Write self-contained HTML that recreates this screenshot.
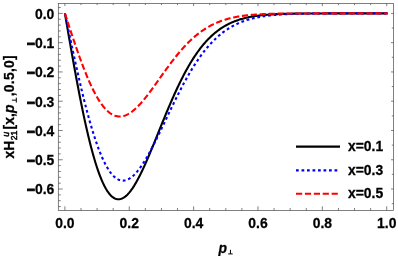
<!DOCTYPE html>
<html><head><meta charset="utf-8">
<style>
html,body{margin:0;padding:0;background:#fff;}
svg{display:block;will-change:transform;}
text{font-family:"Liberation Sans",sans-serif;font-weight:bold;font-size:13.5px;fill:#000;stroke:#000;stroke-width:0.25px;}
</style></head><body>
<svg width="398" height="256" viewBox="0 0 398 256">
<rect width="398" height="256" fill="#fff"/>
<g fill="none" stroke-linejoin="round">
<path d="M64.90,13.40 L65.70,18.07 L66.51,22.74 L67.31,27.41 L68.12,32.06 L68.92,36.70 L69.73,41.32 L70.53,45.91 L71.34,50.49 L72.14,55.03 L72.95,59.55 L73.75,64.03 L74.55,68.47 L75.36,72.87 L76.16,77.23 L76.97,81.55 L77.77,85.81 L78.58,90.03 L79.38,94.19 L80.19,98.29 L80.99,102.34 L81.79,106.32 L82.60,110.24 L83.40,114.10 L84.21,117.88 L85.01,121.60 L85.82,125.25 L86.62,128.82 L87.43,132.31 L88.23,135.73 L89.04,139.06 L89.84,142.32 L90.64,145.49 L91.45,148.58 L92.25,151.58 L93.06,154.50 L93.86,157.33 L94.67,160.07 L95.47,162.72 L96.28,165.28 L97.08,167.75 L97.88,170.13 L98.69,172.41 L99.49,174.60 L100.30,176.70 L101.10,178.70 L101.91,180.61 L102.71,182.42 L103.52,184.14 L104.32,185.77 L105.12,187.30 L105.93,188.74 L106.73,190.08 L107.54,191.33 L108.34,192.48 L109.15,193.54 L109.95,194.51 L110.76,195.39 L111.56,196.17 L112.37,196.87 L113.17,197.48 L113.97,198.00 L114.78,198.43 L115.58,198.77 L116.39,199.03 L117.19,199.20 L118.00,199.29 L118.80,199.30 L119.61,199.23 L120.41,199.07 L121.22,198.84 L122.02,198.54 L122.82,198.16 L123.63,197.70 L124.43,197.17 L125.24,196.58 L126.04,195.91 L126.85,195.17 L127.65,194.38 L128.46,193.51 L129.26,192.59 L130.06,191.60 L130.87,190.56 L131.67,189.45 L132.48,188.30 L133.28,187.09 L134.09,185.83 L134.89,184.52 L135.70,183.16 L136.50,181.75 L137.31,180.30 L138.11,178.81 L138.91,177.28 L139.72,175.71 L140.52,174.10 L141.33,172.46 L142.13,170.78 L142.94,169.08 L143.74,167.34 L144.55,165.57 L145.35,163.78 L146.15,161.97 L146.96,160.13 L147.76,158.27 L148.57,156.39 L149.37,154.50 L150.18,152.58 L150.98,150.66 L151.79,148.72 L152.59,146.76 L153.40,144.80 L154.20,142.83 L155.00,140.86 L155.81,138.87 L156.61,136.89 L157.42,134.90 L158.22,132.91 L159.03,130.92 L159.83,128.93 L160.64,126.94 L161.44,124.95 L162.24,122.97 L163.05,121.00 L163.85,119.03 L164.66,117.08 L165.46,115.13 L166.27,113.19 L167.07,111.26 L167.88,109.34 L168.68,107.44 L169.49,105.54 L170.29,103.67 L171.09,101.81 L171.90,99.96 L172.70,98.13 L173.51,96.32 L174.31,94.53 L175.12,92.75 L175.92,90.99 L176.73,89.26 L177.53,87.54 L178.33,85.84 L179.14,84.17 L179.94,82.51 L180.75,80.88 L181.55,79.27 L182.36,77.68 L183.16,76.12 L183.97,74.58 L184.77,73.06 L185.58,71.56 L186.38,70.09 L187.18,68.64 L187.99,67.21 L188.79,65.81 L189.60,64.44 L190.40,63.08 L191.21,61.76 L192.01,60.45 L192.82,59.17 L193.62,57.92 L194.42,56.68 L195.23,55.48 L196.03,54.29 L196.84,53.13 L197.64,52.00 L198.45,50.88 L199.25,49.79 L200.06,48.73 L200.86,47.68 L201.67,46.66 L202.47,45.67 L203.27,44.69 L204.08,43.74 L204.88,42.81 L205.69,41.90 L206.49,41.02 L207.30,40.15 L208.10,39.31 L208.91,38.48 L209.71,37.68 L210.51,36.90 L211.32,36.14 L212.12,35.39 L212.93,34.67 L213.73,33.97 L214.54,33.28 L215.34,32.61 L216.15,31.96 L216.95,31.33 L217.75,30.72 L218.56,30.12 L219.36,29.54 L220.17,28.98 L220.97,28.44 L221.78,27.90 L222.58,27.39 L223.39,26.89 L224.19,26.40 L225.00,25.93 L225.80,25.48 L226.60,25.04 L227.41,24.61 L228.21,24.19 L229.02,23.79 L229.82,23.40 L230.63,23.03 L231.43,22.66 L232.24,22.31 L233.04,21.97 L233.85,21.64 L234.65,21.32 L235.45,21.01 L236.26,20.71 L237.06,20.42 L237.87,20.15 L238.67,19.88 L239.48,19.62 L240.28,19.37 L241.09,19.13 L241.89,18.90 L242.69,18.67 L243.50,18.45 L244.30,18.25 L245.11,18.05 L245.91,17.85 L246.72,17.67 L247.52,17.49 L248.33,17.31 L249.13,17.15 L249.94,16.99 L250.74,16.83 L251.54,16.69 L252.35,16.54 L253.15,16.41 L253.96,16.28 L254.76,16.15 L255.57,16.03 L256.37,15.91 L257.18,15.80 L257.98,15.69 L258.78,15.59 L259.59,15.49 L260.39,15.40 L261.20,15.30 L262.00,15.22 L262.81,15.13 L263.61,15.05 L264.42,14.98 L265.22,14.90 L266.02,14.83 L266.83,14.77 L267.63,14.70 L268.44,14.64 L269.24,14.58 L270.05,14.52 L270.85,14.47 L271.66,14.42 L272.46,14.37 L273.27,14.32 L274.07,14.28 L274.87,14.23 L275.68,14.19 L276.48,14.15 L277.29,14.12 L278.09,14.08 L278.90,14.05 L279.70,14.01 L280.51,13.98 L281.31,13.95 L282.12,13.93 L282.92,13.90 L283.72,13.87 L284.53,13.85 L285.33,13.83 L286.14,13.80 L286.94,13.78 L287.75,13.76 L288.55,13.74 L289.36,13.73 L290.16,13.71 L290.96,13.69 L291.77,13.68 L292.57,13.66 L293.38,13.65 L294.18,13.64 L294.99,13.62 L295.79,13.61 L296.60,13.60 L297.40,13.59 L298.21,13.58 L299.01,13.57 L299.81,13.56 L300.62,13.55 L301.42,13.54 L302.23,13.53 L303.03,13.53 L303.84,13.52 L304.64,13.51 L305.45,13.51 L306.25,13.50 L307.05,13.49 L307.86,13.49 L308.66,13.48 L309.47,13.48 L310.27,13.47 L311.08,13.47 L311.88,13.47 L312.69,13.46 L313.49,13.46 L314.30,13.46 L315.10,13.45 L315.90,13.45 L316.71,13.45 L317.51,13.44 L318.32,13.44 L319.12,13.44 L319.93,13.44 L320.73,13.43 L321.54,13.43 L322.34,13.43 L323.14,13.43 L323.95,13.43 L324.75,13.42 L325.56,13.42 L326.36,13.42 L327.17,13.42 L327.97,13.42 L328.78,13.42 L329.58,13.42 L330.38,13.42 L331.19,13.41 L331.99,13.41 L332.80,13.41 L333.60,13.41 L334.41,13.41 L335.21,13.41 L336.02,13.41 L336.82,13.41 L337.63,13.41 L338.43,13.41 L339.23,13.41 L340.04,13.41 L340.84,13.41 L341.65,13.41 L342.45,13.41 L343.26,13.41 L344.06,13.41 L344.87,13.40 L345.67,13.40 L346.48,13.40 L347.28,13.40 L348.08,13.40 L348.89,13.40 L349.69,13.40 L350.50,13.40 L351.30,13.40 L352.11,13.40 L352.91,13.40 L353.72,13.40 L354.52,13.40 L355.32,13.40 L356.13,13.40 L356.93,13.40 L357.74,13.40 L358.54,13.40 L359.35,13.40 L360.15,13.40 L360.96,13.40 L361.76,13.40 L362.57,13.40 L363.37,13.40 L364.17,13.40 L364.98,13.40 L365.78,13.40 L366.59,13.40 L367.39,13.40 L368.20,13.40 L369.00,13.40 L369.81,13.40 L370.61,13.40 L371.41,13.40 L372.22,13.40 L373.02,13.40 L373.83,13.40 L374.63,13.40 L375.44,13.40 L376.24,13.40 L377.05,13.40 L377.85,13.40 L378.65,13.40 L379.46,13.40 L380.26,13.40 L381.07,13.40 L381.87,13.40 L382.68,13.40 L383.48,13.40 L384.29,13.40 L385.09,13.40 L385.90,13.40 L386.70,13.40 L387.70,13.40" stroke="#000" stroke-width="2.1"/>
<path d="M64.90,13.40 L65.70,17.23 L66.51,21.07 L67.31,24.90 L68.12,28.72 L68.92,32.53 L69.73,36.33 L70.53,40.12 L71.34,43.89 L72.14,47.64 L72.95,51.37 L73.75,55.08 L74.55,58.77 L75.36,62.43 L76.16,66.06 L76.97,69.66 L77.77,73.23 L78.58,76.76 L79.38,80.26 L80.19,83.72 L80.99,87.14 L81.79,90.51 L82.60,93.85 L83.40,97.14 L84.21,100.38 L85.01,103.57 L85.82,106.71 L86.62,109.80 L87.43,112.83 L88.23,115.82 L89.04,118.74 L89.84,121.61 L90.64,124.42 L91.45,127.16 L92.25,129.85 L93.06,132.47 L93.86,135.04 L94.67,137.53 L95.47,139.96 L96.28,142.33 L97.08,144.62 L97.88,146.85 L98.69,149.01 L99.49,151.10 L100.30,153.13 L101.10,155.08 L101.91,156.96 L102.71,158.76 L103.52,160.50 L104.32,162.16 L105.12,163.75 L105.93,165.27 L106.73,166.72 L107.54,168.09 L108.34,169.39 L109.15,170.62 L109.95,171.77 L110.76,172.85 L111.56,173.86 L112.37,174.80 L113.17,175.66 L113.97,176.46 L114.78,177.18 L115.58,177.83 L116.39,178.41 L117.19,178.92 L118.00,179.36 L118.80,179.74 L119.61,180.04 L120.41,180.28 L121.22,180.45 L122.02,180.56 L122.82,180.60 L123.63,180.58 L124.43,180.49 L125.24,180.34 L126.04,180.14 L126.85,179.87 L127.65,179.54 L128.46,179.16 L129.26,178.71 L130.06,178.21 L130.87,177.66 L131.67,177.06 L132.48,176.40 L133.28,175.69 L134.09,174.93 L134.89,174.12 L135.70,173.27 L136.50,172.37 L137.31,171.42 L138.11,170.43 L138.91,169.40 L139.72,168.33 L140.52,167.22 L141.33,166.07 L142.13,164.88 L142.94,163.66 L143.74,162.41 L144.55,161.12 L145.35,159.80 L146.15,158.45 L146.96,157.07 L147.76,155.67 L148.57,154.23 L149.37,152.78 L150.18,151.30 L150.98,149.80 L151.79,148.27 L152.59,146.73 L153.40,145.17 L154.20,143.59 L155.00,142.00 L155.81,140.39 L156.61,138.77 L157.42,137.14 L158.22,135.49 L159.03,133.84 L159.83,132.18 L160.64,130.51 L161.44,128.83 L162.24,127.15 L163.05,125.47 L163.85,123.78 L164.66,122.09 L165.46,120.39 L166.27,118.70 L167.07,117.01 L167.88,115.32 L168.68,113.63 L169.49,111.95 L170.29,110.27 L171.09,108.60 L171.90,106.93 L172.70,105.27 L173.51,103.61 L174.31,101.97 L175.12,100.33 L175.92,98.71 L176.73,97.09 L177.53,95.48 L178.33,93.89 L179.14,92.31 L179.94,90.74 L180.75,89.19 L181.55,87.64 L182.36,86.12 L183.16,84.60 L183.97,83.11 L184.77,81.62 L185.58,80.16 L186.38,78.71 L187.18,77.28 L187.99,75.86 L188.79,74.46 L189.60,73.08 L190.40,71.72 L191.21,70.37 L192.01,69.05 L192.82,67.74 L193.62,66.45 L194.42,65.18 L195.23,63.93 L196.03,62.70 L196.84,61.48 L197.64,60.29 L198.45,59.12 L199.25,57.96 L200.06,56.83 L200.86,55.71 L201.67,54.62 L202.47,53.54 L203.27,52.48 L204.08,51.44 L204.88,50.43 L205.69,49.43 L206.49,48.45 L207.30,47.49 L208.10,46.54 L208.91,45.62 L209.71,44.72 L210.51,43.83 L211.32,42.97 L212.12,42.12 L212.93,41.29 L213.73,40.48 L214.54,39.68 L215.34,38.91 L216.15,38.15 L216.95,37.41 L217.75,36.69 L218.56,35.98 L219.36,35.29 L220.17,34.62 L220.97,33.96 L221.78,33.32 L222.58,32.69 L223.39,32.08 L224.19,31.49 L225.00,30.91 L225.80,30.35 L226.60,29.80 L227.41,29.26 L228.21,28.74 L229.02,28.24 L229.82,27.74 L230.63,27.26 L231.43,26.80 L232.24,26.34 L233.04,25.90 L233.85,25.48 L234.65,25.06 L235.45,24.66 L236.26,24.26 L237.06,23.88 L237.87,23.51 L238.67,23.15 L239.48,22.81 L240.28,22.47 L241.09,22.14 L241.89,21.83 L242.69,21.52 L243.50,21.22 L244.30,20.93 L245.11,20.65 L245.91,20.38 L246.72,20.12 L247.52,19.87 L248.33,19.63 L249.13,19.39 L249.94,19.16 L250.74,18.94 L251.54,18.72 L252.35,18.52 L253.15,18.32 L253.96,18.13 L254.76,17.94 L255.57,17.76 L256.37,17.59 L257.18,17.42 L257.98,17.26 L258.78,17.10 L259.59,16.95 L260.39,16.81 L261.20,16.67 L262.00,16.53 L262.81,16.40 L263.61,16.28 L264.42,16.16 L265.22,16.04 L266.02,15.93 L266.83,15.82 L267.63,15.72 L268.44,15.62 L269.24,15.53 L270.05,15.43 L270.85,15.35 L271.66,15.26 L272.46,15.18 L273.27,15.10 L274.07,15.03 L274.87,14.96 L275.68,14.89 L276.48,14.82 L277.29,14.76 L278.09,14.70 L278.90,14.64 L279.70,14.58 L280.51,14.53 L281.31,14.48 L282.12,14.43 L282.92,14.38 L283.72,14.33 L284.53,14.29 L285.33,14.25 L286.14,14.21 L286.94,14.17 L287.75,14.13 L288.55,14.10 L289.36,14.07 L290.16,14.03 L290.96,14.00 L291.77,13.97 L292.57,13.95 L293.38,13.92 L294.18,13.89 L294.99,13.87 L295.79,13.85 L296.60,13.83 L297.40,13.80 L298.21,13.78 L299.01,13.76 L299.81,13.75 L300.62,13.73 L301.42,13.71 L302.23,13.70 L303.03,13.68 L303.84,13.67 L304.64,13.65 L305.45,13.64 L306.25,13.63 L307.05,13.62 L307.86,13.61 L308.66,13.59 L309.47,13.58 L310.27,13.57 L311.08,13.57 L311.88,13.56 L312.69,13.55 L313.49,13.54 L314.30,13.53 L315.10,13.53 L315.90,13.52 L316.71,13.51 L317.51,13.51 L318.32,13.50 L319.12,13.50 L319.93,13.49 L320.73,13.48 L321.54,13.48 L322.34,13.48 L323.14,13.47 L323.95,13.47 L324.75,13.46 L325.56,13.46 L326.36,13.46 L327.17,13.45 L327.97,13.45 L328.78,13.45 L329.58,13.45 L330.38,13.44 L331.19,13.44 L331.99,13.44 L332.80,13.44 L333.60,13.43 L334.41,13.43 L335.21,13.43 L336.02,13.43 L336.82,13.43 L337.63,13.42 L338.43,13.42 L339.23,13.42 L340.04,13.42 L340.84,13.42 L341.65,13.42 L342.45,13.42 L343.26,13.42 L344.06,13.42 L344.87,13.41 L345.67,13.41 L346.48,13.41 L347.28,13.41 L348.08,13.41 L348.89,13.41 L349.69,13.41 L350.50,13.41 L351.30,13.41 L352.11,13.41 L352.91,13.41 L353.72,13.41 L354.52,13.41 L355.32,13.41 L356.13,13.41 L356.93,13.41 L357.74,13.41 L358.54,13.40 L359.35,13.40 L360.15,13.40 L360.96,13.40 L361.76,13.40 L362.57,13.40 L363.37,13.40 L364.17,13.40 L364.98,13.40 L365.78,13.40 L366.59,13.40 L367.39,13.40 L368.20,13.40 L369.00,13.40 L369.81,13.40 L370.61,13.40 L371.41,13.40 L372.22,13.40 L373.02,13.40 L373.83,13.40 L374.63,13.40 L375.44,13.40 L376.24,13.40 L377.05,13.40 L377.85,13.40 L378.65,13.40 L379.46,13.40 L380.26,13.40 L381.07,13.40 L381.87,13.40 L382.68,13.40 L383.48,13.40 L384.29,13.40 L385.09,13.40 L385.90,13.40 L386.70,13.40 L387.70,13.40" stroke="#0000ff" stroke-width="2.1" stroke-dasharray="2.75 2.75"/>
<path d="M64.90,13.40 L65.70,15.88 L66.51,18.35 L67.31,20.82 L68.12,23.29 L68.92,25.75 L69.73,28.20 L70.53,30.65 L71.34,33.08 L72.14,35.50 L72.95,37.91 L73.75,40.30 L74.55,42.68 L75.36,45.04 L76.16,47.38 L76.97,49.70 L77.77,52.00 L78.58,54.27 L79.38,56.52 L80.19,58.74 L80.99,60.94 L81.79,63.10 L82.60,65.24 L83.40,67.34 L84.21,69.41 L85.01,71.45 L85.82,73.45 L86.62,75.42 L87.43,77.34 L88.23,79.23 L89.04,81.08 L89.84,82.89 L90.64,84.66 L91.45,86.39 L92.25,88.07 L93.06,89.71 L93.86,91.31 L94.67,92.86 L95.47,94.36 L96.28,95.82 L97.08,97.22 L97.88,98.59 L98.69,99.90 L99.49,101.16 L100.30,102.38 L101.10,103.54 L101.91,104.66 L102.71,105.72 L103.52,106.74 L104.32,107.70 L105.12,108.62 L105.93,109.48 L106.73,110.29 L107.54,111.05 L108.34,111.76 L109.15,112.42 L109.95,113.03 L110.76,113.58 L111.56,114.09 L112.37,114.55 L113.17,114.96 L113.97,115.32 L114.78,115.63 L115.58,115.89 L116.39,116.10 L117.19,116.27 L118.00,116.38 L118.80,116.46 L119.61,116.48 L120.41,116.46 L121.22,116.40 L122.02,116.29 L122.82,116.14 L123.63,115.94 L124.43,115.71 L125.24,115.43 L126.04,115.12 L126.85,114.76 L127.65,114.37 L128.46,113.93 L129.26,113.46 L130.06,112.96 L130.87,112.42 L131.67,111.85 L132.48,111.24 L133.28,110.60 L134.09,109.93 L134.89,109.24 L135.70,108.51 L136.50,107.75 L137.31,106.97 L138.11,106.16 L138.91,105.33 L139.72,104.47 L140.52,103.59 L141.33,102.69 L142.13,101.77 L142.94,100.82 L143.74,99.86 L144.55,98.88 L145.35,97.89 L146.15,96.88 L146.96,95.85 L147.76,94.81 L148.57,93.76 L149.37,92.70 L150.18,91.62 L150.98,90.54 L151.79,89.44 L152.59,88.34 L153.40,87.24 L154.20,86.12 L155.00,85.00 L155.81,83.88 L156.61,82.75 L157.42,81.62 L158.22,80.49 L159.03,79.35 L159.83,78.22 L160.64,77.09 L161.44,75.95 L162.24,74.82 L163.05,73.70 L163.85,72.57 L164.66,71.45 L165.46,70.34 L166.27,69.22 L167.07,68.12 L167.88,67.02 L168.68,65.93 L169.49,64.84 L170.29,63.77 L171.09,62.70 L171.90,61.64 L172.70,60.59 L173.51,59.55 L174.31,58.52 L175.12,57.50 L175.92,56.49 L176.73,55.49 L177.53,54.51 L178.33,53.53 L179.14,52.57 L179.94,51.62 L180.75,50.68 L181.55,49.76 L182.36,48.85 L183.16,47.95 L183.97,47.07 L184.77,46.20 L185.58,45.34 L186.38,44.49 L187.18,43.67 L187.99,42.85 L188.79,42.05 L189.60,41.26 L190.40,40.49 L191.21,39.73 L192.01,38.99 L192.82,38.26 L193.62,37.54 L194.42,36.84 L195.23,36.16 L196.03,35.48 L196.84,34.82 L197.64,34.18 L198.45,33.55 L199.25,32.93 L200.06,32.33 L200.86,31.74 L201.67,31.17 L202.47,30.60 L203.27,30.06 L204.08,29.52 L204.88,29.00 L205.69,28.49 L206.49,27.99 L207.30,27.51 L208.10,27.04 L208.91,26.58 L209.71,26.13 L210.51,25.70 L211.32,25.27 L212.12,24.86 L212.93,24.46 L213.73,24.07 L214.54,23.69 L215.34,23.33 L216.15,22.97 L216.95,22.62 L217.75,22.29 L218.56,21.96 L219.36,21.65 L220.17,21.34 L220.97,21.04 L221.78,20.75 L222.58,20.47 L223.39,20.20 L224.19,19.94 L225.00,19.69 L225.80,19.45 L226.60,19.21 L227.41,18.98 L228.21,18.76 L229.02,18.54 L229.82,18.34 L230.63,18.14 L231.43,17.95 L232.24,17.76 L233.04,17.58 L233.85,17.41 L234.65,17.24 L235.45,17.08 L236.26,16.93 L237.06,16.78 L237.87,16.63 L238.67,16.49 L239.48,16.36 L240.28,16.23 L241.09,16.11 L241.89,15.99 L242.69,15.88 L243.50,15.77 L244.30,15.66 L245.11,15.56 L245.91,15.46 L246.72,15.37 L247.52,15.28 L248.33,15.19 L249.13,15.11 L249.94,15.03 L250.74,14.96 L251.54,14.88 L252.35,14.81 L253.15,14.75 L253.96,14.68 L254.76,14.62 L255.57,14.56 L256.37,14.51 L257.18,14.45 L257.98,14.40 L258.78,14.35 L259.59,14.31 L260.39,14.26 L261.20,14.22 L262.00,14.18 L262.81,14.14 L263.61,14.10 L264.42,14.07 L265.22,14.03 L266.02,14.00 L266.83,13.97 L267.63,13.94 L268.44,13.91 L269.24,13.89 L270.05,13.86 L270.85,13.84 L271.66,13.81 L272.46,13.79 L273.27,13.77 L274.07,13.75 L274.87,13.73 L275.68,13.71 L276.48,13.70 L277.29,13.68 L278.09,13.67 L278.90,13.65 L279.70,13.64 L280.51,13.62 L281.31,13.61 L282.12,13.60 L282.92,13.59 L283.72,13.58 L284.53,13.57 L285.33,13.56 L286.14,13.55 L286.94,13.54 L287.75,13.53 L288.55,13.53 L289.36,13.52 L290.16,13.51 L290.96,13.50 L291.77,13.50 L292.57,13.49 L293.38,13.49 L294.18,13.48 L294.99,13.48 L295.79,13.47 L296.60,13.47 L297.40,13.46 L298.21,13.46 L299.01,13.46 L299.81,13.45 L300.62,13.45 L301.42,13.45 L302.23,13.44 L303.03,13.44 L303.84,13.44 L304.64,13.44 L305.45,13.43 L306.25,13.43 L307.05,13.43 L307.86,13.43 L308.66,13.43 L309.47,13.42 L310.27,13.42 L311.08,13.42 L311.88,13.42 L312.69,13.42 L313.49,13.42 L314.30,13.42 L315.10,13.42 L315.90,13.41 L316.71,13.41 L317.51,13.41 L318.32,13.41 L319.12,13.41 L319.93,13.41 L320.73,13.41 L321.54,13.41 L322.34,13.41 L323.14,13.41 L323.95,13.41 L324.75,13.41 L325.56,13.41 L326.36,13.41 L327.17,13.41 L327.97,13.41 L328.78,13.40 L329.58,13.40 L330.38,13.40 L331.19,13.40 L331.99,13.40 L332.80,13.40 L333.60,13.40 L334.41,13.40 L335.21,13.40 L336.02,13.40 L336.82,13.40 L337.63,13.40 L338.43,13.40 L339.23,13.40 L340.04,13.40 L340.84,13.40 L341.65,13.40 L342.45,13.40 L343.26,13.40 L344.06,13.40 L344.87,13.40 L345.67,13.40 L346.48,13.40 L347.28,13.40 L348.08,13.40 L348.89,13.40 L349.69,13.40 L350.50,13.40 L351.30,13.40 L352.11,13.40 L352.91,13.40 L353.72,13.40 L354.52,13.40 L355.32,13.40 L356.13,13.40 L356.93,13.40 L357.74,13.40 L358.54,13.40 L359.35,13.40 L360.15,13.40 L360.96,13.40 L361.76,13.40 L362.57,13.40 L363.37,13.40 L364.17,13.40 L364.98,13.40 L365.78,13.40 L366.59,13.40 L367.39,13.40 L368.20,13.40 L369.00,13.40 L369.81,13.40 L370.61,13.40 L371.41,13.40 L372.22,13.40 L373.02,13.40 L373.83,13.40 L374.63,13.40 L375.44,13.40 L376.24,13.40 L377.05,13.40 L377.85,13.40 L378.65,13.40 L379.46,13.40 L380.26,13.40 L381.07,13.40 L381.87,13.40 L382.68,13.40 L383.48,13.40 L384.29,13.40 L385.09,13.40 L385.90,13.40 L386.70,13.40 L387.70,13.40" stroke="#ff0000" stroke-width="2.1" stroke-dasharray="6.2 2.7"/>
</g>
<g stroke="#4a4a4a" stroke-width="0.7" fill="none">
<rect x="58.3" y="3.4" width="335.2" height="207.1"/>
<line x1="64.90" y1="210.5" x2="64.90" y2="206.3"/>
<line x1="64.90" y1="3.4" x2="64.90" y2="6.1"/>
<line x1="80.99" y1="210.5" x2="80.99" y2="208.0"/>
<line x1="80.99" y1="3.4" x2="80.99" y2="5.1"/>
<line x1="97.08" y1="210.5" x2="97.08" y2="208.0"/>
<line x1="97.08" y1="3.4" x2="97.08" y2="5.1"/>
<line x1="113.17" y1="210.5" x2="113.17" y2="208.0"/>
<line x1="113.17" y1="3.4" x2="113.17" y2="5.1"/>
<line x1="129.26" y1="210.5" x2="129.26" y2="206.3"/>
<line x1="129.26" y1="3.4" x2="129.26" y2="6.1"/>
<line x1="145.35" y1="210.5" x2="145.35" y2="208.0"/>
<line x1="145.35" y1="3.4" x2="145.35" y2="5.1"/>
<line x1="161.44" y1="210.5" x2="161.44" y2="208.0"/>
<line x1="161.44" y1="3.4" x2="161.44" y2="5.1"/>
<line x1="177.53" y1="210.5" x2="177.53" y2="208.0"/>
<line x1="177.53" y1="3.4" x2="177.53" y2="5.1"/>
<line x1="193.62" y1="210.5" x2="193.62" y2="206.3"/>
<line x1="193.62" y1="3.4" x2="193.62" y2="6.1"/>
<line x1="209.71" y1="210.5" x2="209.71" y2="208.0"/>
<line x1="209.71" y1="3.4" x2="209.71" y2="5.1"/>
<line x1="225.80" y1="210.5" x2="225.80" y2="208.0"/>
<line x1="225.80" y1="3.4" x2="225.80" y2="5.1"/>
<line x1="241.89" y1="210.5" x2="241.89" y2="208.0"/>
<line x1="241.89" y1="3.4" x2="241.89" y2="5.1"/>
<line x1="257.98" y1="210.5" x2="257.98" y2="206.3"/>
<line x1="257.98" y1="3.4" x2="257.98" y2="6.1"/>
<line x1="274.07" y1="210.5" x2="274.07" y2="208.0"/>
<line x1="274.07" y1="3.4" x2="274.07" y2="5.1"/>
<line x1="290.16" y1="210.5" x2="290.16" y2="208.0"/>
<line x1="290.16" y1="3.4" x2="290.16" y2="5.1"/>
<line x1="306.25" y1="210.5" x2="306.25" y2="208.0"/>
<line x1="306.25" y1="3.4" x2="306.25" y2="5.1"/>
<line x1="322.34" y1="210.5" x2="322.34" y2="206.3"/>
<line x1="322.34" y1="3.4" x2="322.34" y2="6.1"/>
<line x1="338.43" y1="210.5" x2="338.43" y2="208.0"/>
<line x1="338.43" y1="3.4" x2="338.43" y2="5.1"/>
<line x1="354.52" y1="210.5" x2="354.52" y2="208.0"/>
<line x1="354.52" y1="3.4" x2="354.52" y2="5.1"/>
<line x1="370.61" y1="210.5" x2="370.61" y2="208.0"/>
<line x1="370.61" y1="3.4" x2="370.61" y2="5.1"/>
<line x1="386.70" y1="210.5" x2="386.70" y2="206.3"/>
<line x1="386.70" y1="3.4" x2="386.70" y2="6.1"/>
<line x1="58.3" y1="7.55" x2="60.8" y2="7.55"/>
<line x1="58.3" y1="13.40" x2="62.699999999999996" y2="13.40"/>
<line x1="58.3" y1="19.25" x2="60.8" y2="19.25"/>
<line x1="58.3" y1="25.11" x2="60.8" y2="25.11"/>
<line x1="58.3" y1="30.96" x2="60.8" y2="30.96"/>
<line x1="58.3" y1="36.82" x2="60.8" y2="36.82"/>
<line x1="58.3" y1="42.67" x2="62.699999999999996" y2="42.67"/>
<line x1="58.3" y1="48.52" x2="60.8" y2="48.52"/>
<line x1="58.3" y1="54.38" x2="60.8" y2="54.38"/>
<line x1="58.3" y1="60.23" x2="60.8" y2="60.23"/>
<line x1="58.3" y1="66.09" x2="60.8" y2="66.09"/>
<line x1="58.3" y1="71.94" x2="62.699999999999996" y2="71.94"/>
<line x1="58.3" y1="77.79" x2="60.8" y2="77.79"/>
<line x1="58.3" y1="83.65" x2="60.8" y2="83.65"/>
<line x1="58.3" y1="89.50" x2="60.8" y2="89.50"/>
<line x1="58.3" y1="95.36" x2="60.8" y2="95.36"/>
<line x1="58.3" y1="101.21" x2="62.699999999999996" y2="101.21"/>
<line x1="58.3" y1="107.06" x2="60.8" y2="107.06"/>
<line x1="58.3" y1="112.92" x2="60.8" y2="112.92"/>
<line x1="58.3" y1="118.77" x2="60.8" y2="118.77"/>
<line x1="58.3" y1="124.63" x2="60.8" y2="124.63"/>
<line x1="58.3" y1="130.48" x2="62.699999999999996" y2="130.48"/>
<line x1="58.3" y1="136.33" x2="60.8" y2="136.33"/>
<line x1="58.3" y1="142.19" x2="60.8" y2="142.19"/>
<line x1="58.3" y1="148.04" x2="60.8" y2="148.04"/>
<line x1="58.3" y1="153.90" x2="60.8" y2="153.90"/>
<line x1="58.3" y1="159.75" x2="62.699999999999996" y2="159.75"/>
<line x1="58.3" y1="165.60" x2="60.8" y2="165.60"/>
<line x1="58.3" y1="171.46" x2="60.8" y2="171.46"/>
<line x1="58.3" y1="177.31" x2="60.8" y2="177.31"/>
<line x1="58.3" y1="183.17" x2="60.8" y2="183.17"/>
<line x1="58.3" y1="189.02" x2="62.699999999999996" y2="189.02"/>
<line x1="58.3" y1="194.87" x2="60.8" y2="194.87"/>
<line x1="58.3" y1="200.73" x2="60.8" y2="200.73"/>
<line x1="58.3" y1="206.58" x2="60.8" y2="206.58"/>
<line x1="393.5" y1="13.40" x2="391.0" y2="13.40"/>
<line x1="393.5" y1="28.04" x2="391.8" y2="28.04"/>
<line x1="393.5" y1="42.67" x2="391.0" y2="42.67"/>
<line x1="393.5" y1="57.31" x2="391.8" y2="57.31"/>
<line x1="393.5" y1="71.94" x2="391.0" y2="71.94"/>
<line x1="393.5" y1="86.58" x2="391.8" y2="86.58"/>
<line x1="393.5" y1="101.21" x2="391.0" y2="101.21"/>
<line x1="393.5" y1="115.85" x2="391.8" y2="115.85"/>
<line x1="393.5" y1="130.48" x2="391.0" y2="130.48"/>
<line x1="393.5" y1="145.12" x2="391.8" y2="145.12"/>
<line x1="393.5" y1="159.75" x2="391.0" y2="159.75"/>
<line x1="393.5" y1="174.39" x2="391.8" y2="174.39"/>
<line x1="393.5" y1="189.02" x2="391.0" y2="189.02"/>
<line x1="393.5" y1="203.66" x2="391.8" y2="203.66"/>
</g>
<g>
<text transform="translate(64.90,227.8) scale(1.03,1.13)" text-anchor="middle">0.0</text>
<text transform="translate(129.26,227.8) scale(1.03,1.13)" text-anchor="middle">0.2</text>
<text transform="translate(193.62,227.8) scale(1.03,1.13)" text-anchor="middle">0.4</text>
<text transform="translate(257.98,227.8) scale(1.03,1.13)" text-anchor="middle">0.6</text>
<text transform="translate(322.34,227.8) scale(1.03,1.13)" text-anchor="middle">0.8</text>
<text transform="translate(386.70,227.8) scale(1.03,1.13)" text-anchor="middle">1.0</text>
<text transform="translate(54.3,18.70) scale(1.03,1.13)" text-anchor="end">0.0</text>
<text transform="translate(54.3,47.97) scale(1.03,1.13)" text-anchor="end"><tspan dy="0.9" style="stroke-width:0.8px">−</tspan><tspan dy="-0.9">0.1</tspan></text>
<text transform="translate(54.3,77.24) scale(1.03,1.13)" text-anchor="end"><tspan dy="0.9" style="stroke-width:0.8px">−</tspan><tspan dy="-0.9">0.2</tspan></text>
<text transform="translate(54.3,106.51) scale(1.03,1.13)" text-anchor="end"><tspan dy="0.9" style="stroke-width:0.8px">−</tspan><tspan dy="-0.9">0.3</tspan></text>
<text transform="translate(54.3,135.78) scale(1.03,1.13)" text-anchor="end"><tspan dy="0.9" style="stroke-width:0.8px">−</tspan><tspan dy="-0.9">0.4</tspan></text>
<text transform="translate(54.3,165.05) scale(1.03,1.13)" text-anchor="end"><tspan dy="0.9" style="stroke-width:0.8px">−</tspan><tspan dy="-0.9">0.5</tspan></text>
<text transform="translate(54.3,194.32) scale(1.03,1.13)" text-anchor="end"><tspan dy="0.9" style="stroke-width:0.8px">−</tspan><tspan dy="-0.9">0.6</tspan></text>
</g>
<g fill="none">
<line x1="296" y1="146.6" x2="340" y2="146.6" stroke="#000" stroke-width="2.1"/>
<line x1="296" y1="170.4" x2="340" y2="170.4" stroke="#0000ff" stroke-width="2.1" stroke-dasharray="2.75 2.75"/>
<line x1="296" y1="193.8" x2="340" y2="193.8" stroke="#ff0000" stroke-width="2.1" stroke-dasharray="6.2 2.7"/>
</g>
<text transform="translate(348,151.0) scale(1.07,1.12)" style="font-size:13px">x=0.1</text>
<text transform="translate(348,174.8) scale(1.07,1.12)" style="font-size:13px">x=0.3</text>
<text transform="translate(348,198.2) scale(1.07,1.12)" style="font-size:13px">x=0.5</text>
<text transform="translate(218.6,253.0) scale(1.03,1.13)"><tspan font-style="italic">p</tspan></text>
<path d="M228.2,253.9 H232.7 M230.45,253.9 V249.8" stroke="#000" stroke-width="1.0" fill="none"/>
<g transform="translate(13.7,158.3) rotate(-90)">
<text transform="translate(-0.1,0) scale(1.03,1.13)" style="">xH</text>
<text transform="translate(18.0,3.3) scale(1.03,1.13)" style="font-weight:normal;stroke-width:0.45px;font-size:8.5px;">21</text>
<text transform="translate(21.5,-4.8) scale(1.03,1.13)" style="font-weight:normal;font-style:italic;stroke-width:0.45px;font-size:8.5px;">u</text>
<text transform="translate(28.9,0) scale(1.03,1.13)" style="">[x,</text>
<text transform="translate(45.3,0) scale(1.03,1.13)" style="font-style:italic;">p</text>
<text transform="translate(62.0,0) scale(1.03,1.13)" style="letter-spacing:0.27px;">,0.5,0]</text>
<path d="M55.7,2.6 H60.6 M58.15,2.6 V-1.8" stroke="#000" stroke-width="1.0" fill="none"/>
</g>
</svg>
</body></html>
